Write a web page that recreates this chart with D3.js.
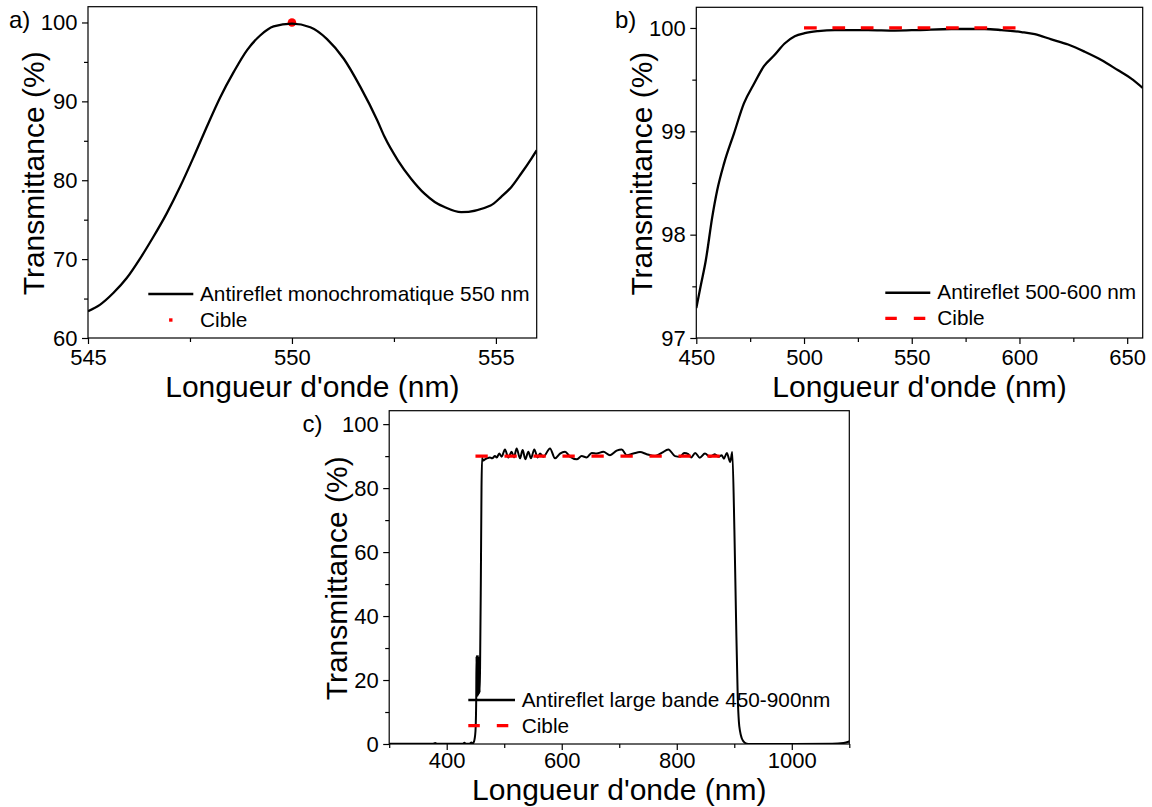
<!DOCTYPE html>
<html><head><meta charset="utf-8">
<script src="https://cdn.jsdelivr.net/npm/d3@7"></script>
<style>
body{margin:0;background:#fff}
svg{display:block}
text{font-family:"Liberation Sans",Arial,sans-serif;fill:#000}
</style>
</head><body>
<svg id="chart" width="1152" height="807"></svg>
<script>
// ---------- DATA ----------
// Panel a
const aWavelength = [545,545.29,545.62,545.95,546.28,546.6,546.93,547.26,547.59,547.91,548.24,548.57,548.9,549.22,549.55,550,550.45,550.86,551.27,551.68,552.09,552.27,552.6,552.92,553.25,553.5,553.74,554.15,554.87,555.13,555.38,555.62,555.87,556];
const aTransmittance = [63.4,64.2,65.7,67.6,70.1,72.8,75.8,79.2,82.95,86.75,90.5,93.7,96.5,98.35,99.5,99.85,99.4,97.9,95.4,91.8,87.6,85.5,82.5,80.2,78.3,77.25,76.6,75.95,76.8,77.9,79.15,80.85,82.75,83.8];
const aTargetX = [550];
const aTargetY = [100];
const aXTicks = [545,550,555];
const aXMinor = [547.5,552.5];
const aYTicks = [60,70,80,90,100];
const aYMinor = [65,75,85,95];
const aLegend = ["Antireflet monochromatique 550 nm","Cible"];

// Panel b
const bWavelength = [450,452,454.4,457.4,459.7,462.9,467.5,472.1,476.8,481.4,486.4,491,495.7,500.3,506.5,514.3,529.7,542.1,552.9,568.4,583.9,591.6,600.9,607.1,614.8,622.6,630.3,638,645.8,651.9,657.2];
const bTransmittance = [97.29,97.5,97.75,98.17,98.43,98.69,98.98,99.27,99.46,99.63,99.74,99.85,99.92,99.95,99.97,99.98,99.98,99.975,99.98,99.99,99.99,99.98,99.96,99.94,99.89,99.84,99.77,99.69,99.59,99.51,99.42];
const bTargetX = [500,600];
const bTargetY = [100,100];
const bXTicks = [450,500,550,600,650];
const bXMinor = [475,525,575,625];
const bYTicks = [97,98,99,100];
const bYMinor = [97.5,98.5,99.5];
const bLegend = ["Antireflet 500-600 nm","Cible"];

// Panel c
const cWavelength = [300,350,376,380,383,400,428,431,433,440,443,445,447.5,450,451.3,451.8,452.5,453.2,454,454.8,455.6,456.4,457.2,458,459.3,460.5,461.5,463,466.5,471,475.2,479,483.9,487,491.4,495.5,501.3,507.1,512.9,517,521.6,527.4,532,536.7,541.9,546.5,552.3,558.1,562.2,568,579.6,588.3,597,605.7,614.4,626,634.7,643.4,652.1,660.7,672.3,683.9,695.5,704.2,712.9,724.5,736.1,747.7,762.2,773.8,785.4,797,805.7,813,820,825,832,840,849,858,866,873,878,882,887,893,896.5,900.2,903,906,908,910,913,916,920,924,1000,1070,1090,1100];
const cTransmittance = [0.05,0.05,0.05,0.3,0.05,0.05,0.05,0.4,0.05,0.1,0.5,0.1,0.8,4,14,27.5,15,27.5,15,27.5,15.5,27,16,24,50,80,89.5,88.6,89.0,89.4,89.6,89.3,90.0,89.6,90.8,89.8,92.1,89.6,91.35,89.6,92.4,89.3,91.9,89.0,91.35,89.3,92.1,89.6,90.8,89.8,92.4,89.3,90.8,91.35,89.8,89.0,90.0,89.6,91.0,90.8,91.35,90.3,91.7,92.1,90.3,90.8,91.25,90.6,90.0,91.0,92.1,90.0,89.8,91.0,90.6,89.6,91.0,89.5,90.8,89.8,90.6,89.8,90.3,89.2,91.0,88.2,91.3,67,40,14.8,7,4,1.8,0.8,0.2,0.02,0.02,0.05,0.3,0.8];
const cTargetX = [450,900];
const cTargetY = [90,90];
const cXTicks = [400,600,800,1000];
const cXMinor = [300,500,700,900,1100];
const cYTicks = [0,20,40,60,80,100];
const cYMinor = [10,30,50,70,90];
const cLegend = ["Antireflet large bande 450-900nm","Cible"];

const xTitle = "Longueur d'onde (nm)";
const yTitle = "Transmittance (%)";

// ---------- DRAWING ----------
const svg = d3.select('#chart');
const RED = '#ff0000';
const TICK_FONT = 22, TITLE_FONT = 30, LEG_FONT = 20.8, LETTER_FONT = 24;

function panel(cfg) {
  const {L, T, R, B} = cfg.frame;
  const x = d3.scaleLinear().domain(cfg.xDomain).range([L, R]);
  const y = d3.scaleLinear().domain(cfg.yDomain).range([B, T]);
  const g = svg.append('g');

  const clipId = 'clip-' + cfg.id;
  svg.append('clipPath').attr('id', clipId)
    .append('rect').attr('x', L).attr('y', T).attr('width', R - L).attr('height', B - T);

  function styleAxis(sel) {
    sel.select('.domain').remove();
    sel.selectAll('line').attr('stroke', '#000').attr('stroke-width', 1.2);
    sel.selectAll('text').style('font-size', TICK_FONT + 'px').attr('fill', '#000');
  }

  g.append('g').attr('transform', `translate(0,${B})`)
    .call(d3.axisBottom(x).tickValues(cfg.xTicks).tickSize(6).tickPadding(cfg.xPad).tickFormat(d3.format('d')))
    .call(styleAxis);
  g.append('g').attr('transform', `translate(0,${B})`)
    .call(d3.axisBottom(x).tickValues(cfg.xMinor).tickSize(4).tickFormat(''))
    .call(styleAxis);
  g.append('g').attr('transform', `translate(${L},0)`)
    .call(d3.axisLeft(y).tickValues(cfg.yTicks).tickSize(6).tickPadding(4.5).tickFormat(d3.format('d')))
    .call(styleAxis);
  g.append('g').attr('transform', `translate(${L},0)`)
    .call(d3.axisLeft(y).tickValues(cfg.yMinor).tickSize(4).tickFormat(''))
    .call(styleAxis);

  // frame
  g.append('rect').attr('x', L).attr('y', T).attr('width', R - L).attr('height', B - T)
    .attr('fill', 'none').attr('stroke', '#000').attr('stroke-width', 1.2);

  const pts = cfg.xs.map((v, i) => [v, cfg.ys[i]]);
  const line = d3.line().x(d => x(d[0])).y(d => y(d[1])).curve(d3.curveMonotoneX);

  // target
  const tpts = cfg.tx.map((v, i) => [v, cfg.ty[i]]);
  if (cfg.targetType === 'dot') {
    g.selectAll('circle.t').data(tpts).enter().append('circle')
      .attr('cx', d => x(d[0])).attr('cy', d => y(d[1])).attr('r', 4.3).attr('fill', RED);
  }

  g.append('path').datum(pts).attr('d', line)
    .attr('fill', 'none').attr('stroke', '#000').attr('stroke-width', cfg.lw)
    .attr('stroke-linejoin', 'round').attr('clip-path', `url(#${clipId})`);

  if (cfg.targetType === 'dash') {
    g.append('path').datum(tpts)
      .attr('d', d3.line().x(d => x(d[0])).y(d => y(d[1])))
      .attr('fill', 'none').attr('stroke', RED).attr('stroke-width', 3.2)
      .attr('stroke-dasharray', cfg.dash);
  }

  // legend
  const lg = cfg.legend;
  g.append('line').attr('x1', lg.x1).attr('x2', lg.x2).attr('y1', lg.y1).attr('y2', lg.y1)
    .attr('stroke', '#000').attr('stroke-width', 2.4);
  g.append('text').attr('x', lg.tx).attr('y', lg.y1 + 6.5).style('font-size', LEG_FONT + 'px').text(cfg.labels[0]);
  if (cfg.targetType === 'dot') {
    g.append('rect').attr('x', (lg.x1 + lg.x2) / 2 - 1.7).attr('y', lg.y2 - 1.7).attr('width', 3.4).attr('height', 3.4).attr('fill', RED);
  } else {
    g.append('line').attr('x1', lg.x1).attr('x2', lg.x2).attr('y1', lg.y2).attr('y2', lg.y2)
      .attr('stroke', RED).attr('stroke-width', 3.2).attr('stroke-dasharray', '11.5,17');
  }
  g.append('text').attr('x', lg.tx).attr('y', lg.y2 + 6.8).style('font-size', LEG_FONT + 'px').text(cfg.labels[1]);

  // titles
  g.append('text').attr('x', (L + R) / 2).attr('y', B + cfg.titleOff).attr('text-anchor', 'middle')
    .style('font-size', TITLE_FONT + 'px').text(xTitle);
  g.append('text').attr('transform', `translate(${cfg.yTitleX},${(T + B) / 2 + 1}) rotate(-90)`)
    .attr('text-anchor', 'middle').style('font-size', TITLE_FONT + 'px').text(yTitle);

  // panel letter
  g.append('text').attr('x', cfg.letterPos[0]).attr('y', cfg.letterPos[1])
    .style('font-size', LETTER_FONT + 'px').text(cfg.letter);
}

panel({
  id: 'a', frame: {L: 88, T: 6.7, R: 536.7, B: 338},
  xDomain: [545, 556], yDomain: [60, 102],
  xTicks: aXTicks, xMinor: aXMinor, yTicks: aYTicks, yMinor: aYMinor,
  xs: aWavelength, ys: aTransmittance, lw: 2.3,
  tx: aTargetX, ty: aTargetY, targetType: 'dot',
  legend: {x1: 148.3, x2: 193.3, y1: 294, y2: 320, tx: 200},
  labels: aLegend, yTitleX: 43.5, letter: 'a)', letterPos: [9, 28.3],
  xPad: 5, titleOff: 59
});

panel({
  id: 'b', frame: {L: 696.3, T: 7.3, R: 1142.7, B: 338},
  xDomain: [450, 657.2], yDomain: [97, 100.2],
  xTicks: bXTicks, xMinor: bXMinor, yTicks: bYTicks, yMinor: bYMinor,
  xs: bWavelength, ys: bTransmittance, lw: 2.3,
  tx: bTargetX, ty: bTargetY, targetType: 'dash', dash: '12.7,15.7',
  legend: {x1: 885.3, x2: 930.3, y1: 292.7, y2: 318.3, tx: 937.3},
  labels: bLegend, yTitleX: 652.3, letter: 'b)', letterPos: [615, 28.3],
  xPad: 5, titleOff: 59
});

panel({
  id: 'c', frame: {L: 389.2, T: 410.7, R: 849.3, B: 744},
  xDomain: [300, 1100], yDomain: [0, 104.2],
  xTicks: cXTicks, xMinor: cXMinor, yTicks: cYTicks, yMinor: cYMinor,
  xs: cWavelength, ys: cTransmittance, lw: 2,
  tx: cTargetX, ty: cTargetY, targetType: 'dash', dash: '12.3,16.7',
  legend: {x1: 468.3, x2: 515, y1: 700, y2: 725.7, tx: 521.7},
  labels: cLegend, yTitleX: 346.7, letter: 'c)', letterPos: [302.5, 431.7],
  xPad: 2.5, titleOff: 56
});
</script>
</body></html>
